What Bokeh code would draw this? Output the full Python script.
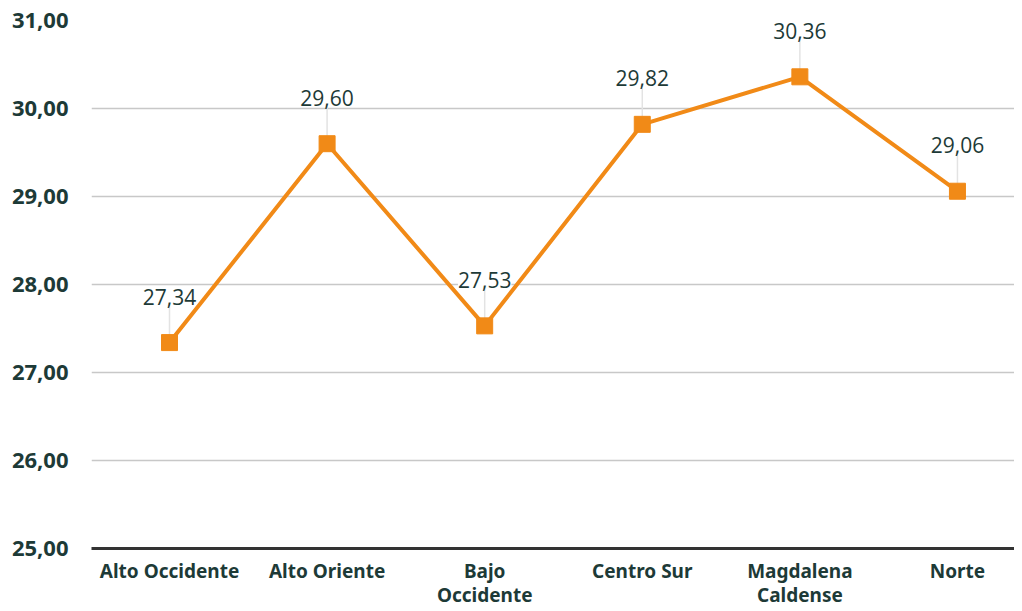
from bokeh.plotting import figure
from bokeh.models import ColumnDataSource, LabelSet, FixedTicker, Range1d
from bokeh.core.properties import value
from bokeh.embed import file_html
from bokeh.resources import INLINE

categories = ["Alto Occidente", "Alto Oriente", "Bajo\nOccidente", "Centro Sur", "Magdalena\nCaldense", "Norte"]
values = [27.34, 29.60, 27.53, 29.82, 30.36, 29.06]
value_labels = ["27,34", "29,60", "27,53", "29,82", "30,36", "29,06"]
y_ticks = [25, 26, 27, 28, 29, 30, 31]
y_tick_labels = ["25,00", "26,00", "27,00", "28,00", "29,00", "30,00", "31,00"]

ORANGE = "#f18a17"
DARK = "#1d3a37"

idx = list(range(len(categories)))
src = ColumnDataSource(dict(x=idx, y=values, lab=value_labels,
                            ytop=[v + 0.42 for v in values]))

p = figure(width=1014, height=611, output_backend="svg", toolbar_location=None,
           x_range=Range1d(-0.495, 5.362), y_range=Range1d(25, 31),
           min_border_left=91, min_border_right=0, min_border_top=20, min_border_bottom=63)
p.outline_line_color = None
p.background_fill_color = "white"

# leader lines
p.segment(x0="x", y0="y", x1="x", y1="ytop", source=src, line_color="#e3e3e3", line_width=1.5)
p.line(x="x", y="y", source=src, line_color=ORANGE, line_width=4)
p.scatter(x="x", y="y", source=src, marker="square", size=16, fill_color=ORANGE, line_color=ORANGE)

labels = LabelSet(x="x", y="y", text="lab", source=src, y_offset=46,
                  text_align="center", text_baseline="middle",
                  text_font=value("Open Sans"), text_font_size=value("21px"), text_color=DARK,
                  background_fill_color="white", background_fill_alpha=1.0)
p.add_layout(labels)

# axes
p.xaxis.ticker = FixedTicker(ticks=idx)
p.xaxis.major_label_overrides = {i: c for i, c in zip(idx, categories)}
p.xaxis.major_label_text_font = "Noto Sans"
p.xaxis.major_label_text_font_style = "bold"
p.xaxis.major_label_text_font_size = "19px"
p.xaxis.major_label_text_color = DARK
p.xaxis.major_label_text_line_height = 0.95
p.xaxis.major_tick_line_color = None
p.xaxis.minor_tick_line_color = None
p.xaxis.axis_line_color = "#333333"
p.xaxis.axis_line_width = 3
p.xaxis.major_label_standoff = 3

p.yaxis.ticker = FixedTicker(ticks=y_ticks)
p.yaxis.major_label_overrides = {t: l for t, l in zip(y_ticks, y_tick_labels)}
p.yaxis.major_label_text_font = "Noto Sans"
p.yaxis.major_label_text_font_style = "bold"
p.yaxis.major_label_text_font_size = "22px"
p.yaxis.major_label_text_color = DARK
p.yaxis.major_tick_line_color = None
p.yaxis.minor_tick_line_color = None
p.yaxis.axis_line_color = None
p.yaxis.major_label_standoff = 17

p.xgrid.grid_line_color = None
p.ygrid.grid_line_color = "#c8c8c8"
p.ygrid.grid_line_width = 1.5

open("out.html", "w").write(file_html(p, INLINE))
